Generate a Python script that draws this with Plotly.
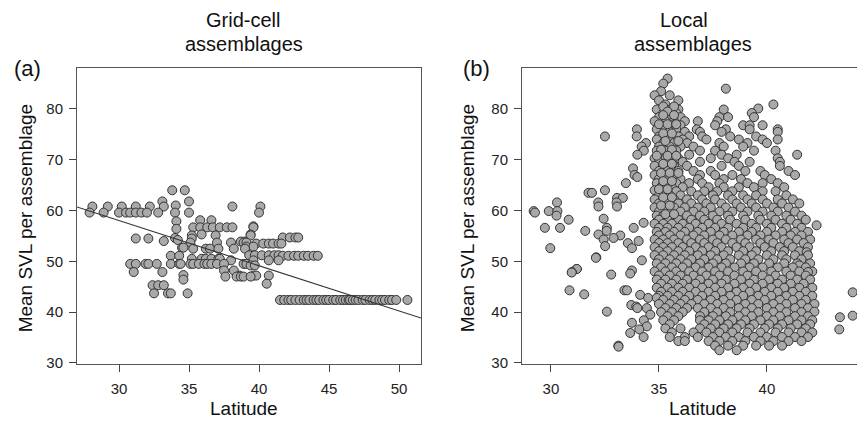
import plotly.graph_objects as go

# ---------------- data ----------------
# Panel (a): grid-cell assemblages, rows of (mean SVL, [latitudes])
A_ROWS = [
    (64.0, [33.8, 34.7]),
    (61.8, [33.1, 35.0]),
    (61.0, [34.05]),
    (60.8, [28.1, 29.2, 30.2, 31.2, 32.2, 33.2, 38.1, 40.1]),
    (59.6, [27.9, 28.9, 30.0, 30.5, 30.8, 31.2, 31.6, 32.0, 32.8, 34.0, 35.0, 40.0]),
    (58.1, [35.8, 36.6]),
    (57.9, [34.1]),
    (56.9, [39.6]),
    (56.7, [35.3, 35.8, 36.3, 36.7, 37.2, 37.7, 38.1, 39.6]),
    (56.4, [34.1]),
    (55.3, [35.9, 39.4]),
    (55.1, [35.2, 36.9, 39.4]),
    (54.7, [41.7, 42.2, 42.6, 42.8]),
    (54.5, [31.2, 32.1, 35.2]),
    (54.6, [34.0]),
    (54.2, [34.2]),
    (54.0, [33.2]),
    (53.9, [38.7, 39.0]),
    (53.7, [35.1, 37.0, 38.0, 38.9, 39.1]),
    (53.5, [39.8, 40.3, 40.7, 41.0, 41.4, 41.6]),
    (52.9, [39.1, 39.6]),
    (52.7, [34.5, 34.6]),
    (52.5, [35.3, 36.2, 36.5, 37.1, 38.2, 39.0]),
    (51.2, [39.3, 39.7, 40.2, 40.7, 41.1, 41.4]),
    (51.1, [33.7, 34.3, 41.7, 42.1, 42.5, 42.8, 43.2, 43.5, 43.9, 44.2]),
    (50.5, [35.2, 35.9, 36.2, 36.6, 37.1, 37.2]),
    (50.2, [38.0, 39.6, 40.7, 41.4]),
    (49.5, [30.8, 31.2, 31.9, 32.1, 32.7, 33.7, 34.3, 34.4, 35.1, 35.3, 35.7,
            36.1, 36.3, 36.6, 37.0, 37.5, 38.9, 39.1]),
    (49.2, [39.4, 39.7]),
    (48.2, [37.5, 38.2]),
    (47.9, [31.05, 33.1]),
    (47.3, [34.6]),
    (47.2, [38.6, 39.6, 39.8, 40.7]),
    (47.0, [37.6, 38.4, 38.7, 38.9, 39.4]),
    (46.4, [34.6]),
    (45.6, [40.55]),
    (45.3, [32.4, 32.8, 33.2]),
    (43.7, [32.5, 33.5, 33.7, 34.9]),
    (42.4, [41.5, 41.8, 42.1, 42.3, 42.6, 42.9, 43.2, 43.4, 43.6, 43.9, 44.1, 44.3,
            44.6, 44.8, 45.0, 45.3, 45.5, 45.8, 46.0, 46.2, 46.4, 46.5, 46.7, 46.9,
            47.1, 47.4, 47.6, 47.9, 48.1, 48.3, 48.6, 48.8, 49.0, 49.3, 49.5, 49.8, 50.6]),
]

# regression line of panel (a): SVL = intercept + slope * latitude
FIT_INTERCEPT = 84.7
FIT_SLOPE = -0.889

# Panel (b): local assemblages, rows of (mean SVL, [latitudes])
B_ROWS = [
    (86.0, [35.4]),
    (85.0, [35.2]),
    (84.0, [38.1]),
    (83.5, [35.1]),
    (82.7, [34.8, 35.5]),
    (81.7, [35.0, 35.9]),
    (80.9, [35.3, 40.3]),
    (80.1, [35.6, 39.6]),
    (79.9, [34.9, 35.9, 38.0]),
    (79.2, [35.2, 35.8, 39.3]),
    (78.4, [35.0, 35.5, 36.0, 37.8, 38.2, 39.4]),
    (77.6, [34.8, 35.3, 35.7, 36.2, 36.8, 37.7]),
    (76.8, [35.1, 35.6, 36.0, 37.6, 38.9, 39.2, 39.8]),
    (76.0, [33.98, 34.9, 35.3, 35.8, 36.75, 38.1, 39.2, 40.5]),
    (75.5, [35.5, 36.2, 36.9, 37.9, 40.5]),
    (74.6, [32.5, 33.97, 35.0, 35.4, 35.9, 36.4, 37.0, 38.3, 39.5]),
    (74.0, [34.9, 35.6, 36.1, 37.2, 38.7, 39.8, 40.5]),
    (73.3, [34.4, 35.2, 35.7, 36.3, 37.8, 39.1, 40.0]),
    (72.6, [34.2, 35.0, 35.5, 36.0, 36.6, 38.0, 38.9]),
    (71.8, [34.3, 34.9, 35.3, 35.8, 36.9, 37.6, 39.4, 40.4]),
    (71.0, [34.0, 35.1, 35.6, 36.4, 37.9, 38.6, 41.4]),
    (70.3, [34.8, 35.3, 35.9, 37.4, 38.2, 40.5]),
    (69.6, [35.0, 35.5, 36.1, 36.9, 38.5, 39.2, 40.6]),
    (68.8, [34.8, 35.2, 35.7, 36.3, 37.9, 38.7, 40.6]),
    (68.3, [33.8]),
    (67.8, [35.0, 35.4, 35.9, 36.6, 37.4, 39.0, 39.7, 41.0]),
    (67.0, [33.87, 34.8, 35.3, 35.7, 36.9, 37.6, 38.4, 39.9, 41.3]),
    (66.6, [34.0]),
    (66.2, [35.0, 35.5, 36.0, 36.8, 38.0, 38.8, 40.2]),
    (65.4, [33.47, 34.9, 35.3, 35.8, 36.4, 37.0, 37.8, 39.1, 39.8, 40.5]),
    (64.6, [35.1, 35.6, 36.1, 37.3, 38.0, 38.7, 39.4, 40.8]),
    (64.0, [32.5, 34.8]),
    (63.8, [35.3, 35.8, 36.5, 37.1, 37.7, 38.4, 39.8, 40.4]),
    (63.5, [31.74, 31.9]),
    (63.0, [35.0, 35.5, 36.0, 36.8, 37.5, 38.2, 38.9, 39.5, 40.9]),
    (62.5, [33.06, 33.33]),
    (62.2, [34.8, 35.2, 35.7, 36.3, 37.0, 37.6, 38.4, 39.1, 39.8, 40.5, 41.2]),
    (61.6, [30.28, 32.19, 33.04]),
    (61.4, [35.0, 35.4, 35.9, 36.5, 37.2, 37.9, 38.6, 39.3, 40.0, 40.7, 41.5]),
    (60.8, [32.2, 33.06]),
    (60.6, [34.8, 35.3, 35.7, 36.2, 36.8, 37.4, 38.1, 38.8, 39.5, 40.3, 41.0]),
    (59.9, [29.2, 29.9, 30.3]),
    (59.8, [35.0, 35.5, 36.0, 36.6, 37.1, 37.8, 38.4, 39.1, 39.8, 40.5, 41.3]),
    (59.6, [29.26]),
    (59.0, [30.26, 34.9, 35.2, 35.7, 36.3, 36.9, 37.5, 38.2, 38.9, 39.6, 40.2, 40.9, 41.6]),
    (58.4, [32.44]),
    (58.2, [30.82, 35.0, 35.4, 35.9, 36.5, 37.1, 37.7, 38.3, 39.0, 39.7, 40.4, 41.1, 41.8]),
    (57.6, [34.29]),
    (57.1, [42.3]),
    (57.4, [34.8, 35.2, 35.6, 36.1, 36.7, 37.3, 37.9, 38.6, 39.3, 40.0, 40.7, 41.4]),
    (56.6, [29.72, 30.42, 32.59, 33.83, 35.0, 35.4, 35.9, 36.4, 37.0, 37.6, 38.2, 38.9,
            39.5, 40.2, 40.9, 41.6]),
    (56.0, [31.59, 32.58]),
    (55.8, [34.9, 35.3, 35.7, 36.2, 36.8, 37.4, 38.0, 38.7, 39.3, 40.0, 40.7, 41.3, 41.9]),
    (55.3, [32.2]),
    (55.1, [33.21, 35.0, 35.5, 36.0, 36.6, 37.1, 37.8, 38.4, 39.1, 39.7, 40.4, 41.1, 41.6]),
    (54.6, [32.9]),
    (54.3, [32.44, 34.8, 35.2, 35.7, 36.3, 36.9, 37.5, 38.1, 38.8, 39.5, 40.1, 40.8, 41.4, 42.0]),
    (54.0, [34.06]),
    (53.6, [33.56, 35.0, 35.4, 35.9, 36.5, 37.1, 37.7, 38.4, 39.0, 39.7, 40.3, 41.0, 41.7]),
    (53.0, [32.51]),
    (52.8, [34.8, 35.2, 35.6, 36.1, 36.7, 37.3, 37.9, 38.6, 39.2, 39.9, 40.6, 41.2, 41.9]),
    (52.6, [29.97, 33.75]),
    (52.0, [35.0, 35.4, 35.9, 36.4, 37.0, 37.6, 38.2, 38.9, 39.5, 40.2, 40.8, 41.5]),
    (51.8, [41.84]),
    (51.2, [34.8, 35.2, 35.7, 36.2, 36.8, 37.4, 38.0, 38.7, 39.3, 40.0, 40.7, 41.3, 41.9]),
    (50.8, [32.1]),
    (50.7, [32.08]),
    (50.4, [35.0, 35.5, 36.0, 36.5, 37.1, 37.7, 38.3, 39.0, 39.6, 40.3, 40.9, 41.6]),
    (50.2, [34.21]),
    (49.6, [34.9, 35.3, 35.8, 36.3, 36.9, 37.5, 38.1, 38.8, 39.4, 40.1, 40.8, 41.4, 42.0]),
    (49.2, [41.5]),
    (48.8, [35.1, 35.6, 36.1, 36.7, 37.3, 37.9, 38.5, 39.2, 39.8, 40.5, 41.2, 41.8]),
    (48.5, [31.19, 31.2]),
    (48.2, [33.75]),
    (48.0, [34.8, 35.3, 35.8, 36.4, 37.0, 37.6, 38.2, 38.9, 39.5, 40.2, 40.9, 41.5, 42.1]),
    (47.9, [30.97, 41.9]),
    (47.8, [30.96]),
    (47.6, [33.67]),
    (47.4, [32.79]),
    (47.2, [35.0, 35.5, 36.0, 36.6, 37.2, 37.8, 38.5, 39.1, 39.8, 40.4, 41.1, 41.8]),
    (46.4, [34.9, 35.3, 35.8, 36.3, 36.9, 37.5, 38.1, 38.8, 39.4, 40.1, 40.7, 41.4, 42.0]),
    (45.6, [35.1, 35.6, 36.1, 36.7, 37.3, 37.9, 38.5, 39.2, 39.8, 40.5, 41.1, 41.7]),
    (44.8, [34.9, 35.4, 35.9, 36.4, 37.0, 37.6, 38.2, 38.9, 39.5, 40.2, 40.8, 41.5, 42.1]),
    (44.3, [30.86, 33.4, 33.52]),
    (44.0, [35.1, 35.6, 36.1, 36.7, 37.3, 37.9, 38.6, 39.2, 39.9, 40.5, 41.2, 41.8]),
    (43.9, [43.97]),
    (43.5, [31.54]),
    (43.4, [34.13]),
    (43.2, [35.0, 35.4, 35.9, 36.4, 37.0, 37.6, 38.3, 38.9, 39.6, 40.2, 40.9, 41.5, 42.1]),
    (42.8, [34.5, 34.9]),
    (42.4, [35.2, 35.7, 36.2, 36.8, 37.4, 38.0, 38.6, 39.3, 39.9, 40.6, 41.2, 41.8]),
    (41.6, [35.0, 35.5, 36.0, 36.5, 37.1, 37.7, 38.3, 39.0, 39.6, 40.3, 40.9, 41.6, 42.2]),
    (41.4, [33.72]),
    (41.1, [33.95]),
    (40.8, [34.0, 34.44, 35.3, 35.8, 36.3, 36.8, 37.4, 38.0, 38.7, 39.3, 40.0, 40.6, 41.3, 41.9]),
    (40.1, [32.59, 42.2]),
    (40.0, [35.1, 35.6, 36.1, 37.1, 37.7, 38.3, 39.0, 39.6, 40.3, 40.9, 41.6]),
    (39.5, [34.6]),
    (39.3, [43.97]),
    (39.2, [35.4, 35.9, 36.9, 37.5, 38.1, 38.7, 39.3, 40.0, 40.6, 41.3, 41.9]),
    (39.0, [43.38]),
    (38.4, [34.3, 35.2, 35.7, 36.9, 37.3, 37.8, 38.4, 39.0, 39.7, 40.3, 41.0, 41.6, 42.1]),
    (37.9, [33.75]),
    (37.6, [35.5, 37.1, 37.6, 38.2, 38.8, 39.4, 40.1, 40.7, 41.4, 42.0]),
    (37.2, [34.44]),
    (36.8, [35.3, 36.0, 36.9, 37.4, 38.0, 38.6, 39.2, 39.9, 40.5, 41.1, 41.8]),
    (36.6, [34.09, 43.35]),
    (36.0, [35.6, 36.6, 37.2, 37.8, 38.4, 39.1, 39.7, 40.4, 41.0, 41.6, 42.1]),
    (35.9, [33.67]),
    (35.1, [34.29, 35.5, 36.2, 36.8, 37.5, 38.1, 38.7, 39.4, 40.0, 40.7, 41.3, 41.9]),
    (34.3, [35.9, 36.2, 37.3, 37.8, 38.4, 39.0, 39.7, 40.3, 41.0, 41.6]),
    (33.4, [33.12, 37.6, 38.2, 38.9, 39.5, 40.1, 40.7]),
    (33.2, [33.13]),
    (32.5, [37.8, 38.6]),
    # extra points in the densest column (lat 35-36)
    (80.5, [35.2, 35.7]),
    (79.5, [35.4]),
    (78.8, [35.2, 35.7]),
    (77.0, [35.0, 35.4, 35.8]),
    (75.2, [35.2, 35.6]),
    (73.7, [35.3, 35.9]),
    (72.0, [35.1, 35.6]),
    (70.8, [34.9, 35.4, 35.8]),
    (69.2, [35.2, 35.6]),
    (67.4, [35.1, 35.5, 35.9]),
    (65.8, [35.2, 35.6]),
    (64.2, [35.0, 35.4]),
    (62.6, [35.2, 35.6]),
    (61.0, [35.1, 35.5]),
    (59.3, [35.3, 35.7]),
]

X_TICKS_A = [30, 35, 40, 45, 50]
X_TICKS_B = [30, 35, 40]
Y_TICKS = [30, 40, 50, 60, 70, 80]


def flatten(rows):
    lat, svl = [], []
    for s, lats in rows:
        for la in lats:
            lat.append(la)
            svl.append(s)
    return lat, svl


a_lat, a_svl = flatten(A_ROWS)
b_lat, b_svl = flatten(B_ROWS)

W, H = 857, 427
FONT = "Liberation Sans, Arial, sans-serif"


def px(x):
    return x / W


def py(y):
    return 1 - y / H


marker = dict(size=9, color="#a9a9a9", line=dict(width=1, color="#333333"))

fig = go.Figure()
fig.add_trace(go.Scatter(x=a_lat, y=a_svl, mode="markers", marker=marker,
                         xaxis="x", yaxis="y", showlegend=False))
fit_x = [27.0, 51.57]
fit_y = [FIT_INTERCEPT + FIT_SLOPE * v for v in fit_x]
fig.add_trace(go.Scatter(x=fit_x, y=fit_y, mode="lines",
                         line=dict(color="#333333", width=1.1),
                         xaxis="x", yaxis="y", showlegend=False))
fig.add_trace(go.Scatter(x=b_lat, y=b_svl, mode="markers", marker=marker,
                         xaxis="x2", yaxis="y2", showlegend=False))

axis_common = dict(showgrid=False, zeroline=False, showline=True, linecolor="#555555",
                   linewidth=1, ticks="outside", ticklen=7, tickwidth=1,
                   tickcolor="#444444", tickfont=dict(family=FONT, size=15, color="#222222"))

Y_DOM = [57 / H, 358 / H]
fig.update_layout(
    width=W, height=H, margin=dict(l=0, r=0, t=0, b=0),
    paper_bgcolor="white", plot_bgcolor="white",
    xaxis=dict(domain=[px(77), px(421)], range=[27.0, 51.57], tickvals=X_TICKS_A,
               mirror=True, anchor="y", ticklabelstandoff=4, **axis_common),
    yaxis=dict(domain=Y_DOM, range=[29.8, 88.1], tickvals=Y_TICKS,
               mirror=True, anchor="x", ticklabelstandoff=3, **axis_common),
    xaxis2=dict(domain=[px(522), 1.0], range=[28.66, 44.17], tickvals=X_TICKS_B,
                mirror=True, anchor="y2", ticklabelstandoff=4, **axis_common),
    yaxis2=dict(domain=Y_DOM, range=[29.8, 88.1], tickvals=Y_TICKS,
                mirror=False, anchor="x2", ticklabelstandoff=3, **axis_common),
)

def ann(text, x, y, size, angle=0):
    fig.add_annotation(text=text, x=px(x), y=py(y), xref="paper", yref="paper",
                       showarrow=False, textangle=angle, xanchor="center", yanchor="middle",
                       font=dict(family=FONT, size=size, color="#111111"))

ann("Grid-cell", 243, 20, 20)
ann("assemblages", 244, 45, 20)
ann("Local", 684, 20, 20)
ann("assemblages", 693, 45, 20)
ann("(a)", 27, 70, 22)
ann("(b)", 476, 70, 22)
ann("Latitude", 244, 415, 19)
ann("Latitude", 703, 415, 19)
ann("Mean SVL per assemblage", 25, 222, 19, -90)
ann("Mean SVL per assemblage", 467, 222, 19, -90)

fig.write_html("out.html")
